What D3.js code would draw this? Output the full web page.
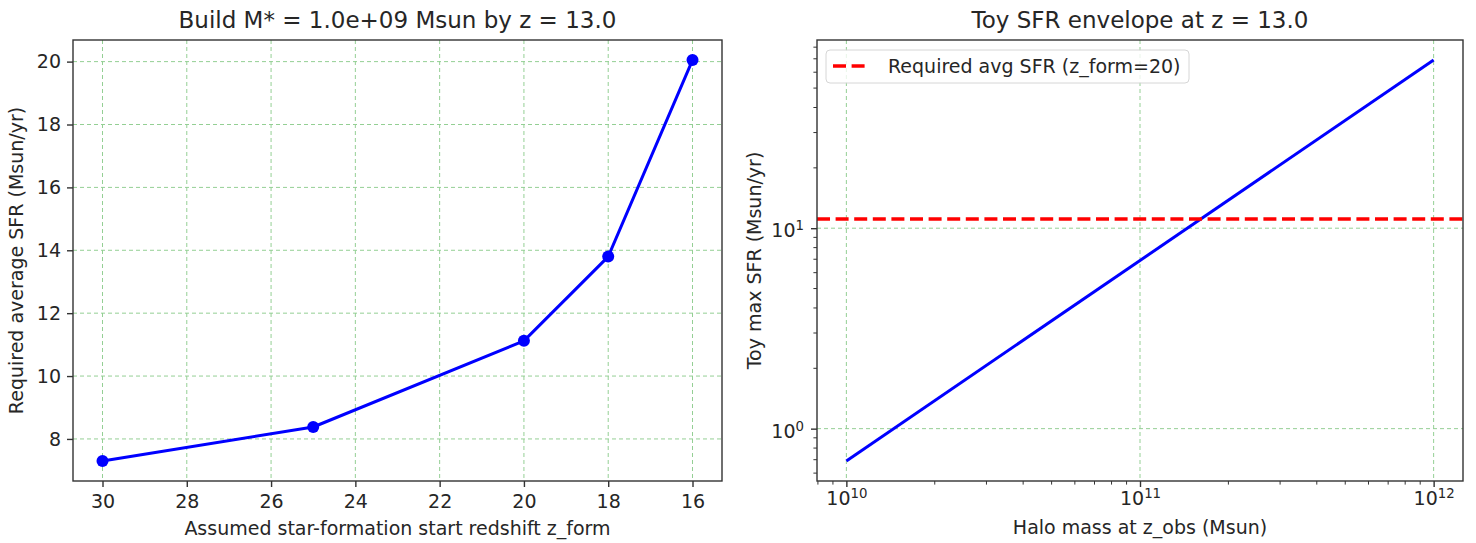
<!DOCTYPE html>
<html lang="en">
  <head>
    <meta charset="utf-8">
    <title>SFR requirement</title>
    <style>
      body { margin: 0; background: #fff; }
      text { font-family: "DejaVu Sans", sans-serif; fill: #262626; }
    </style>
  </head>
  <body>
  <script src="https://d3js.org/d3.v7.min.js"></script>

  <svg width="1476" height="543"></svg>

  <script type="text/javascript">

    // left panel: required average SFR vs assumed formation redshift
    var zForm = [30, 25, 20, 18, 16];
    var sfrReq = [7.3, 8.38, 11.12, 13.8, 20.05];
    var leftXTicks = [30, 28, 26, 24, 22, 20, 18, 16];
    var leftYTicks = [8, 10, 12, 14, 16, 18, 20];

    // right panel: toy max SFR vs halo mass
    var haloMass = [1e10, 1e11, 1e12];
    var sfrMax = [0.69, 6.9, 69];
    var reqAvgSFR = 11.1;
    var rightXTicks = [1e10, 1e11, 1e12];
    var rightYTicks = [1e0, 1e1];

    var svg = d3.select("svg");
    svg.append("rect").attr("width", 1476).attr("height", 543).attr("fill", "#fff");

    var gridColor = "#94cf94";
    var fs = 19, fsTitle = 23;

    // ---------- left panel ----------
    var L = {x0: 73, x1: 722, y0: 40, y1: 481};

    var xPad = (d3.max(zForm) - d3.min(zForm)) * 0.05;
    var yPad = (d3.max(sfrReq) - d3.min(sfrReq)) * 0.05;
    var xL = d3.scaleLinear()
      .domain([d3.max(zForm) + xPad, d3.min(zForm) - xPad])
      .range([L.x0, L.x1]);
    var yL = d3.scaleLinear()
      .domain([d3.min(sfrReq) - yPad, d3.max(sfrReq) + yPad])
      .range([L.y1, L.y0]);

    var gl = svg.append("g");

    // grid
    gl.selectAll(".gx").data(leftXTicks).enter().append("line")
      .attr("x1", d => xL(d)).attr("x2", d => xL(d))
      .attr("y1", L.y0).attr("y2", L.y1)
      .attr("stroke", gridColor).attr("stroke-width", 1).attr("stroke-dasharray", "4,3");
    gl.selectAll(".gy").data(leftYTicks).enter().append("line")
      .attr("x1", L.x0).attr("x2", L.x1)
      .attr("y1", d => yL(d)).attr("y2", d => yL(d))
      .attr("stroke", gridColor).attr("stroke-width", 1).attr("stroke-dasharray", "4,3");

    // line + markers
    var pts = zForm.map((z, i) => [z, sfrReq[i]]);
    gl.append("path")
      .datum(pts)
      .attr("fill", "none").attr("stroke", "#0000ff").attr("stroke-width", 3)
      .attr("stroke-linejoin", "round")
      .attr("d", d3.line().x(d => xL(d[0])).y(d => yL(d[1])));
    gl.selectAll(".pt").data(pts).enter().append("circle")
      .attr("cx", d => xL(d[0])).attr("cy", d => yL(d[1]))
      .attr("r", 6).attr("fill", "#0000ff");

    // axes
    var axBL = gl.append("g").attr("transform", "translate(0," + L.y1 + ")")
      .call(d3.axisBottom(xL).tickValues(leftXTicks).tickSize(6).tickPadding(8).tickFormat(d3.format("d")));
    var axLL = gl.append("g").attr("transform", "translate(" + L.x0 + ",0)")
      .call(d3.axisLeft(yL).tickValues(leftYTicks).tickSize(6).tickPadding(6).tickFormat(d3.format("d")));
    [axBL, axLL].forEach(function (a) {
      a.select(".domain").remove();
      a.selectAll("line").attr("stroke", "#333").attr("stroke-width", 1.4);
      a.selectAll("text").attr("font-size", fs).attr("font-family", "DejaVu Sans").attr("fill", "#262626");
    });
    gl.append("rect").attr("x", L.x0).attr("y", L.y0)
      .attr("width", L.x1 - L.x0).attr("height", L.y1 - L.y0)
      .attr("fill", "none").attr("stroke", "#333").attr("stroke-width", 1.4);

    gl.append("text").attr("x", (L.x0 + L.x1) / 2).attr("y", 28)
      .attr("text-anchor", "middle").attr("font-size", fsTitle)
      .text("Build M* = 1.0e+09 Msun by z = 13.0");
    gl.append("text").attr("x", (L.x0 + L.x1) / 2).attr("y", 535)
      .attr("text-anchor", "middle").attr("font-size", fs)
      .text("Assumed star-formation start redshift z_form");
    gl.append("text").attr("transform", "translate(23," + (L.y0 + L.y1) / 2 + ") rotate(-90)")
      .attr("text-anchor", "middle").attr("font-size", fs)
      .text("Required average SFR (Msun/yr)");

    // ---------- right panel ----------
    var R = {x0: 817, x1: 1463, y0: 40, y1: 481};

    var lxMin = Math.log10(d3.min(haloMass)), lxMax = Math.log10(d3.max(haloMass));
    var lyMin = Math.log10(d3.min(sfrMax)), lyMax = Math.log10(d3.max(sfrMax));
    var lxPad = (lxMax - lxMin) * 0.05, lyPad = (lyMax - lyMin) * 0.05;
    var xR = d3.scaleLog()
      .domain([Math.pow(10, lxMin - lxPad), Math.pow(10, lxMax + lxPad)])
      .range([R.x0, R.x1]);
    var yR = d3.scaleLog()
      .domain([Math.pow(10, lyMin - lyPad), Math.pow(10, lyMax + lyPad)])
      .range([R.y1, R.y0]);

    var gr = svg.append("g");

    gr.selectAll(".gx").data(rightXTicks).enter().append("line")
      .attr("x1", d => xR(d)).attr("x2", d => xR(d))
      .attr("y1", R.y0).attr("y2", R.y1)
      .attr("stroke", gridColor).attr("stroke-width", 1).attr("stroke-dasharray", "4,3");
    gr.selectAll(".gy").data(rightYTicks).enter().append("line")
      .attr("x1", R.x0).attr("x2", R.x1)
      .attr("y1", d => yR(d)).attr("y2", d => yR(d))
      .attr("stroke", gridColor).attr("stroke-width", 1).attr("stroke-dasharray", "4,3");

    gr.append("path")
      .datum(haloMass.map((m, i) => [m, sfrMax[i]]))
      .attr("fill", "none").attr("stroke", "#0000ff").attr("stroke-width", 3)
      .attr("d", d3.line().x(d => xR(d[0])).y(d => yR(d[1])));

    gr.append("line")
      .attr("x1", R.x0).attr("x2", R.x1)
      .attr("y1", yR(reqAvgSFR)).attr("y2", yR(reqAvgSFR))
      .attr("stroke", "#ff0000").attr("stroke-width", 3.5).attr("stroke-dasharray", "13,5.6");

    // minor ticks for log axes
    function minorTicks(scale) {
      var dom = scale.domain(), out = [];
      var a = Math.floor(Math.log10(dom[0])), b = Math.ceil(Math.log10(dom[1]));
      for (var e = a; e <= b; e++) {
        for (var k = 2; k <= 9; k++) {
          var v = k * Math.pow(10, e);
          if (v >= dom[0] && v <= dom[1]) out.push(v);
        }
      }
      return out;
    }
    gr.selectAll(".mx").data(minorTicks(xR)).enter().append("line")
      .attr("x1", d => xR(d)).attr("x2", d => xR(d))
      .attr("y1", R.y1).attr("y2", R.y1 + 3.6)
      .attr("stroke", "#333").attr("stroke-width", 1);
    gr.selectAll(".my").data(minorTicks(yR)).enter().append("line")
      .attr("x1", R.x0 - 3.6).attr("x2", R.x0)
      .attr("y1", d => yR(d)).attr("y2", d => yR(d))
      .attr("stroke", "#333").attr("stroke-width", 1);

    var axBR = gr.append("g").attr("transform", "translate(0," + R.y1 + ")")
      .call(d3.axisBottom(xR).tickValues(rightXTicks).tickSize(6).tickPadding(7).tickFormat(""));
    var axLR = gr.append("g").attr("transform", "translate(" + R.x0 + ",0)")
      .call(d3.axisLeft(yR).tickValues(rightYTicks).tickSize(6).tickPadding(7).tickFormat(""));
    [axBR, axLR].forEach(function (a) {
      a.select(".domain").remove();
      a.selectAll("line").attr("stroke", "#333").attr("stroke-width", 1.4);
    });

    // power-of-ten labels
    function powLabel(sel) {
      sel.text(null);
      sel.each(function (d) {
        var t = d3.select(this);
        t.append("tspan").text("10");
        t.append("tspan").attr("font-size", 13.3).attr("dy", -7).text(Math.round(Math.log10(d)));
      });
    }
    axBR.selectAll(".tick text").attr("font-size", fs).attr("font-family", "DejaVu Sans")
      .attr("fill", "#262626").attr("y", 24).attr("dy", 0).call(powLabel);
    axLR.selectAll(".tick text").attr("font-size", fs).attr("font-family", "DejaVu Sans")
      .attr("fill", "#262626").attr("dy", "0.45em").call(powLabel);

    gr.append("rect").attr("x", R.x0).attr("y", R.y0)
      .attr("width", R.x1 - R.x0).attr("height", R.y1 - R.y0)
      .attr("fill", "none").attr("stroke", "#333").attr("stroke-width", 1.4);

    gr.append("text").attr("x", (R.x0 + R.x1) / 2).attr("y", 28)
      .attr("text-anchor", "middle").attr("font-size", fsTitle)
      .text("Toy SFR envelope at z = 13.0");
    gr.append("text").attr("x", (R.x0 + R.x1) / 2).attr("y", 534)
      .attr("text-anchor", "middle").attr("font-size", fs)
      .text("Halo mass at z_obs (Msun)");
    gr.append("text").attr("transform", "translate(761," + (R.y0 + R.y1) / 2 + ") rotate(-90)")
      .attr("text-anchor", "middle").attr("font-size", fs)
      .text("Toy max SFR (Msun/yr)");

    // legend
    var lg = gr.append("g").attr("transform", "translate(826,50)");
    lg.append("rect").attr("width", 363).attr("height", 33).attr("rx", 4)
      .attr("fill", "#fff").attr("fill-opacity", 0.8)
      .attr("stroke", "#d6d6d6").attr("stroke-width", 1);
    lg.append("line").attr("x1", 7).attr("x2", 43).attr("y1", 16).attr("y2", 16)
      .attr("stroke", "#ff0000").attr("stroke-width", 3.5).attr("stroke-dasharray", "13,5.6");
    lg.append("text").attr("x", 62).attr("y", 23).attr("font-size", fs)
      .text("Required avg SFR (z_form=20)");

  </script>
  </body>
</html>
